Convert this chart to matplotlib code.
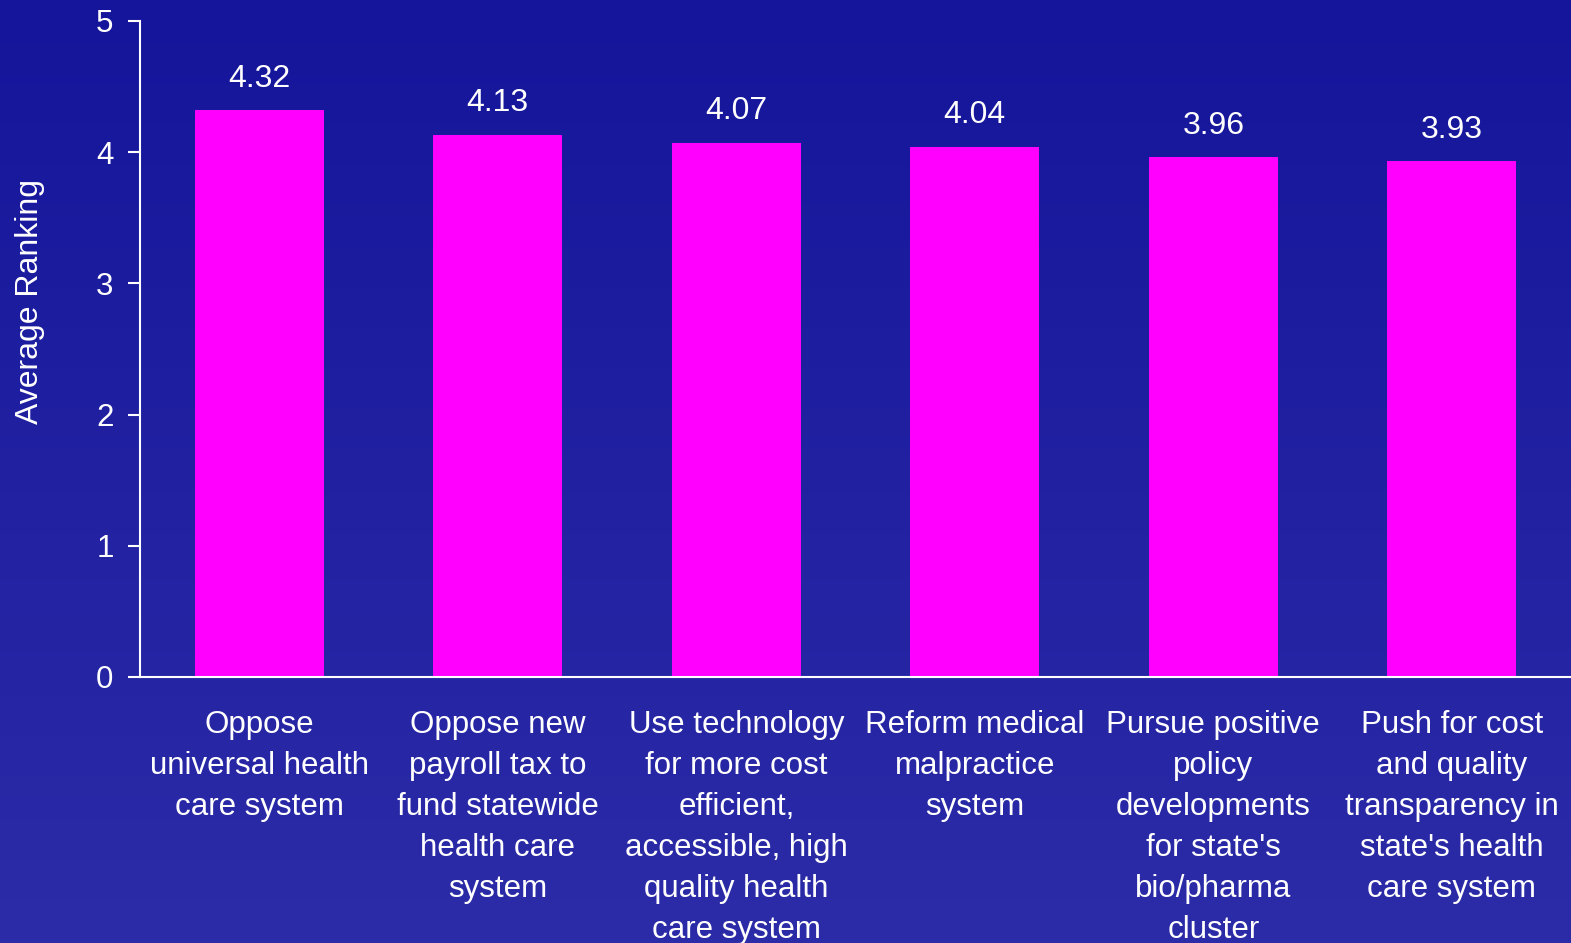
import matplotlib.pyplot as plt
import numpy as np

plt.rcParams['font.family'] = ['Liberation Sans', 'DejaVu Sans']

categories = [
    "Oppose\nuniversal health\ncare system",
    "Oppose new\npayroll tax to\nfund statewide\nhealth care\nsystem",
    "Use technology\nfor more cost\nefficient,\naccessible, high\nquality health\ncare system",
    "Reform medical\nmalpractice\nsystem",
    "Pursue positive\npolicy\ndevelopments\nfor state's\nbio/pharma\ncluster",
    "Push for cost\nand quality\ntransparency in\nstate's health\ncare system",
]
values = [4.32, 4.13, 4.07, 4.04, 3.96, 3.93]
yticks = [0, 1, 2, 3, 4, 5]

fig = plt.figure(figsize=(15.71, 9.43), dpi=100)

# gradient background
bg = fig.add_axes([0, 0, 1, 1], zorder=0)
top = np.array([0x15, 0x15, 0x9b]) / 255
bot = np.array([0x2c, 0x2c, 0xa8]) / 255
t = np.linspace(0, 1, 256)[:, None]
grad = top + (bot - top) * t
bg.imshow(grad[:, None, :], aspect='auto', extent=[0, 1, 0, 1])
bg.axis('off')

ax = fig.add_axes([0.0891, 0.2821, 0.911, 0.6957], zorder=1)
ax.patch.set_alpha(0)
x = np.arange(len(values))
bars = ax.bar(x, values, width=0.54, color='#ff00ff')
ax.set_xlim(-0.5, 5.5)
ax.set_ylim(0, 5)
ax.set_yticks(yticks)

for spine in ['top', 'right']:
    ax.spines[spine].set_visible(False)
for spine in ['left', 'bottom']:
    ax.spines[spine].set_color('white')
    ax.spines[spine].set_linewidth(1.5)

ax.tick_params(axis='y', colors='white', labelsize=22.5, length=9, width=1.5, pad=10)
ax.tick_params(axis='x', colors='white', labelsize=22.5, length=0, pad=24)
ax.set_xticks(x)
ax.set_xticklabels(categories, linespacing=1.475)

for xi, v in zip(x, values):
    ax.annotate(f"{v:.2f}", (xi, v), xytext=(0, 17), textcoords='offset points',
                ha='center', va='baseline', color='white', fontsize=23)

fig.text(0.019, 0.68, "Average Ranking", rotation=90, color='white',
         fontsize=23, ha='center', va='center')

fig.savefig('out.png', dpi=100)
